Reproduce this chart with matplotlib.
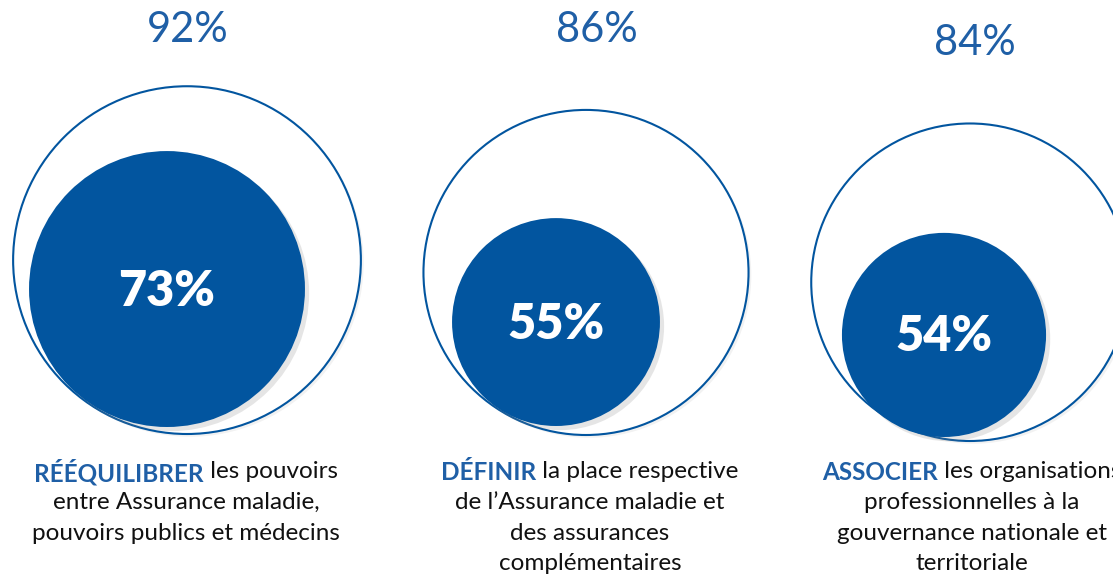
import matplotlib
matplotlib.use('Agg')
import matplotlib.pyplot as plt
from matplotlib.patches import Circle
import matplotlib.patheffects as pe

# Données
outer_pct = [92, 86, 84]
inner_pct = [73, 55, 54]
bold_words = ['RÉÉQUILIBRER', 'DÉFINIR', 'ASSOCIER']
first_rest = [' les pouvoirs', ' la place respective', ' les organisations']
other_lines = [
    ['entre Assurance maladie,', 'pouvoirs publics et médecins'],
    ['de l\u2019Assurance maladie et', 'des assurances', 'complémentaires'],
    ['professionnelles à la', 'gouvernance nationale et', 'territoriale'],
]

blue = '#02559F'
title_blue = '#1F5FA6'
plt.rcParams['font.family'] = ['Lato', 'DejaVu Sans']

fig = plt.figure(figsize=(11.13, 5.8), dpi=100)
ax = fig.add_axes([0, 0, 1, 1])
ax.set_xlim(0, 1113)
ax.set_ylim(580, 0)
ax.set_aspect('equal')
ax.axis('off')

# mise en page (pixels)
scale = 1.89
outer_cx = [187, 586, 970]
outer_bottom = [434, 435, 441]
inner_dx = [-20, -30, -26]
inner_gap = [7, 9, 4]
top_x = [188, 597, 975]
top_y = [30, 30, 43]
text_cx = [186, 590, 972]

for i in range(3):
    R = outer_pct[i] * scale
    r = inner_pct[i] * scale
    cy = outer_bottom[i] - R
    outer = Circle((outer_cx[i], cy), R, facecolor='white', edgecolor=blue, lw=1.5,
                   path_effects=[pe.SimplePatchShadow(offset=(2, -2), alpha=0.1, shadow_rgbFace='gray'), pe.Normal()])
    ax.add_patch(outer)
    icx = outer_cx[i] + inner_dx[i]
    icy = outer_bottom[i] - inner_gap[i] - r
    inner = Circle((icx, icy), r, facecolor=blue, edgecolor='none',
                   path_effects=[pe.SimplePatchShadow(offset=(3, -3), alpha=0.2, shadow_rgbFace='gray'), pe.Normal()])
    ax.add_patch(inner)
    ax.text(icx, icy + 2, f'{inner_pct[i]}%', color='white', fontsize=35, fontweight='heavy',
            ha='center', va='center')
    ax.text(top_x[i], top_y[i], f'{outer_pct[i]}%', color=title_blue, fontsize=30,
            ha='center', va='center')

# textes du bas
fig.canvas.draw()
renderer = fig.canvas.get_renderer()
fs = 17.5
for i in range(3):
    y0 = 472
    tb = ax.text(0, y0, bold_words[i], color=title_blue, fontsize=fs, fontweight='bold',
                 ha='left', va='center')
    tr = ax.text(0, y0, first_rest[i], color='#111111', fontsize=fs, ha='left', va='center')
    wb = tb.get_window_extent(renderer).width
    wr = tr.get_window_extent(renderer).width
    x0 = text_cx[i] - (wb + wr) / 2
    tb.set_x(x0)
    tr.set_x(x0 + wb)
    for j, line in enumerate(other_lines[i]):
        ax.text(text_cx[i], y0 + 30.5 * (j + 1), line, color='#111111', fontsize=fs,
                ha='center', va='center')

fig.savefig('out.png', dpi=100)
